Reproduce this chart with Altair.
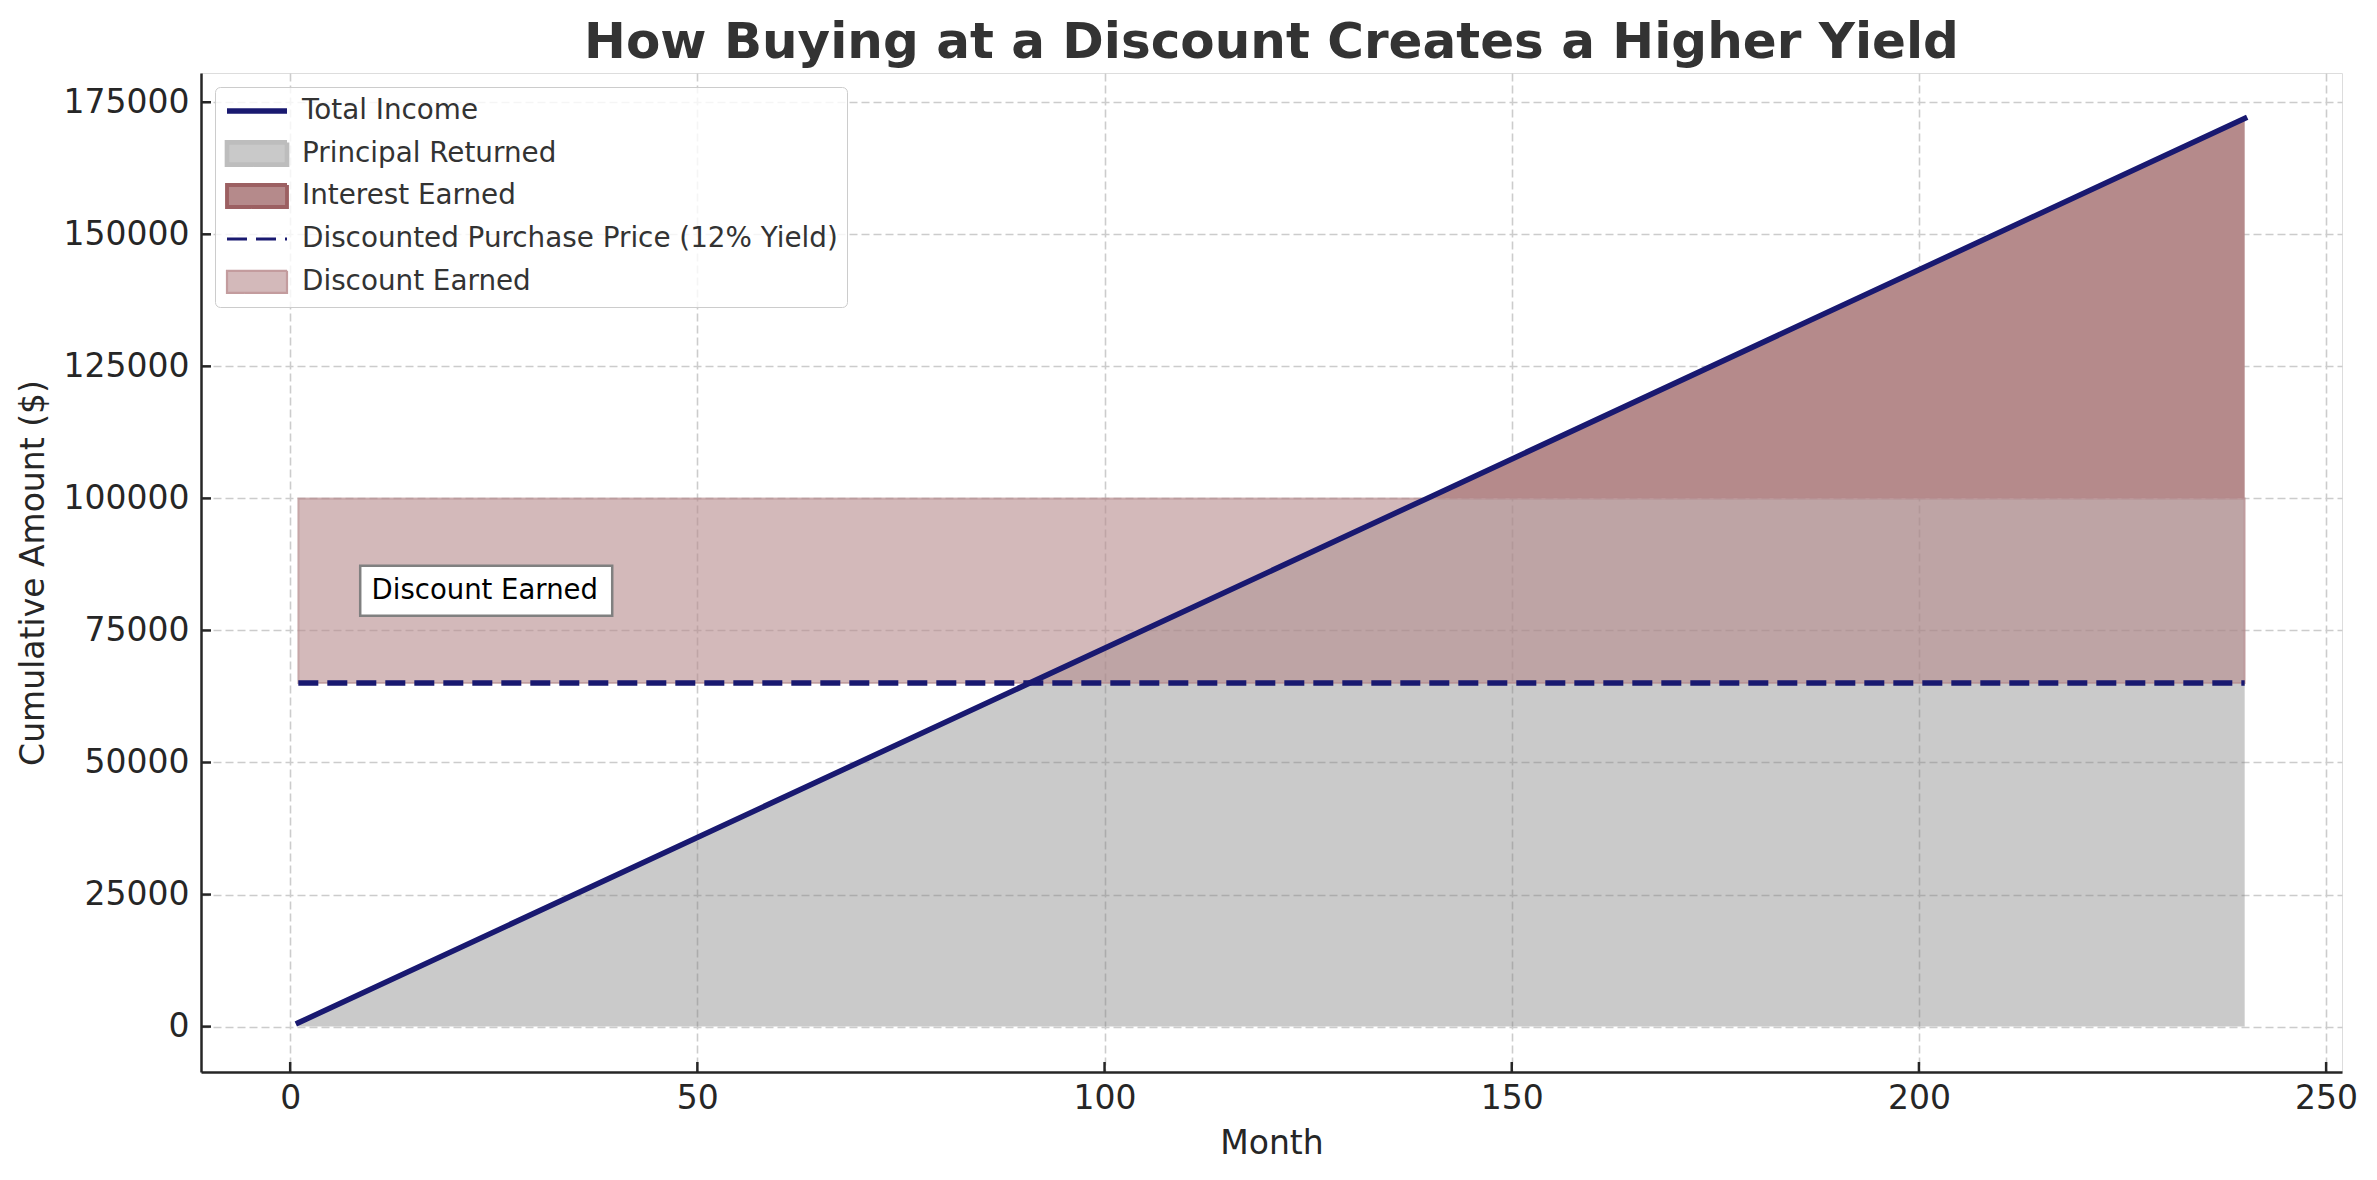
import altair as alt
import pandas as pd

FONT = "DejaVu Sans"

series_names = ["Total Income", "Principal Returned", "Interest Earned",
                "Discounted Purchase Price (12% Yield)", "Discount Earned"]

# Total income (cumulative payments) line
income_months = [1, 139.6, 240]
income_values = [716, 100000, 171943]

# Principal returned area (0 -> min(income, face value))
principal_months = [1, 139.6, 240]
principal_bottom = [0, 0, 0]
principal_top = [716, 100000, 100000]

# Interest earned area (face value -> income)
interest_months = [139.6, 240]
interest_bottom = [100000, 100000]
interest_top = [100000, 171943]

# Discount earned band (purchase price -> face value)
discount_months = [1, 240]
discount_bottom = [65065, 65065]
discount_top = [100000, 100000]

# Discounted purchase price line
price_months = [1, 240]
price_values = [65065, 65065]

annotation_month = [10]
annotation_value = [82532]
annotation_text = ["Discount Earned"]

x_ticks = [0, 50, 100, 150, 200, 250]
y_ticks = [0, 25000, 50000, 75000, 100000, 125000, 150000, 175000]
x_domain = [-10.95, 251.95]
y_domain = [-8597, 180540]

# legend swatch styles (one per series)
legend_fill = ["transparent", "#c9c9c9", "#b58a8b", "transparent", "#d3b9ba"]
legend_stroke = ["#191970", "#bdbdbd", "#9c6062", "#191970", "#c39c9e"]
legend_width = [5.5, 2.2, 2.2, 5.5, 2.2]
legend_dash = [[1, 0], [1, 0], [1, 0], [20, 9], [1, 0]]
LINE_PATH = "M-1,0H4"
BOX_PATH = "M-1,-0.92H4V0.92H-1Z"
legend_shape = [LINE_PATH, BOX_PATH, BOX_PATH, LINE_PATH, BOX_PATH]

income_df = pd.DataFrame({"month": income_months, "value": income_values})
principal_df = pd.DataFrame({"month": principal_months, "value": principal_bottom, "hi": principal_top})
interest_df = pd.DataFrame({"month": interest_months, "value": interest_bottom, "hi": interest_top})
discount_df = pd.DataFrame({"month": discount_months, "value": discount_bottom, "hi": discount_top})
price_df = pd.DataFrame({"month": price_months, "value": price_values})
annot_df = pd.DataFrame({"month": annotation_month, "value": annotation_value, "text": annotation_text})
xtick_df = pd.DataFrame({"month": x_ticks})
ytick_df = pd.DataFrame({"value": y_ticks})
legend_df = pd.DataFrame({"series": series_names})

AX = "#262626"
common_axis = dict(grid=True, gridDash=[8, 4], gridColor="#cccccc", gridWidth=1.6,
                   domainColor=AX, domainWidth=2.5, ticks=False,
                   labelFont=FONT, labelFontSize=33, labelColor=AX,
                   titleFont=FONT, titleFontSize=33, titleColor=AX, titleFontWeight="normal")

x_axis = alt.Axis(values=x_ticks, title="Month", labelPadding=10, titlePadding=12.5, **common_axis)
y_axis = alt.Axis(values=y_ticks, title="Cumulative Amount ($)", format="d", labelPadding=12,
                  titlePadding=13, **common_axis)
x_scale = alt.Scale(domain=x_domain, nice=False, zero=False)
y_scale = alt.Scale(domain=y_domain, nice=False, zero=False)


def X():
    return alt.X("month:Q", scale=x_scale, axis=x_axis)


def Y():
    return alt.Y("value:Q", scale=y_scale, axis=y_axis)


legend = alt.Legend(
    title="", orient="top-left", offset=14, padding=9,
    labelFont=FONT, labelFontSize=27.8, labelColor="#333333", labelLimit=900,
    rowPadding=2, gridAlign="all", fillColor="rgba(255,255,255,0.8)", strokeColor="#cccccc",
    cornerRadius=5, symbolSize=576, labelOffset=48, symbolOpacity=1,
)

principal = alt.Chart(principal_df).mark_area(color="#808080", fillOpacity=0.42).encode(
    x=X(), y=Y(), y2="hi:Q")
interest = alt.Chart(interest_df).mark_area(color="#b58a8b", fillOpacity=1).encode(
    x=X(), y=Y(), y2="hi:Q")
discount = alt.Chart(discount_df).mark_area(color="#b68a8c", fillOpacity=0.6, stroke="#b68a8c",
                                            strokeOpacity=0.6, strokeWidth=2).encode(
    x=X(), y=Y(), y2="hi:Q")

price_line = alt.Chart(price_df).mark_line(color="#191970", strokeWidth=5.5, strokeDash=[20, 9]).encode(
    x=X(), y=Y())
income_line = alt.Chart(income_df).mark_line(color="#191970", strokeWidth=5.5, strokeCap="square").encode(
    x=X(), y=Y())

annot_box = alt.Chart(annot_df).mark_rect(width=252, height=50, xOffset=114.6, fill="white",
                                          stroke="#808080", strokeWidth=2.5).encode(x=X(), y=Y())
annot_text = alt.Chart(annot_df).mark_text(align="left", baseline="middle", font=FONT, fontSize=27.5,
                                           color="black").encode(x=X(), y=Y(), text="text:N")

# inward tick marks on the two visible spines
xticks = alt.Chart(xtick_df).mark_rule(color=AX, strokeWidth=2.5, y2Offset=-10).encode(
    x=X(), y=alt.Y(datum=y_domain[0], scale=y_scale, axis=y_axis), y2=alt.datum(y_domain[0]))
yticks = alt.Chart(ytick_df).mark_rule(color=AX, strokeWidth=2.5, x2Offset=10).encode(
    y=Y(), x=alt.X(datum=x_domain[0], scale=x_scale, axis=x_axis), x2=alt.datum(x_domain[0]))

# legend carrier: points placed outside the plot and clipped, one per series
legend_layer = alt.Chart(legend_df).mark_point(clip=True, filled=True, size=576, opacity=1).encode(
    x=alt.X(datum=-1000, scale=x_scale, axis=x_axis),
    y=alt.Y(datum=0, scale=y_scale, axis=y_axis),
    fill=alt.Fill("series:N", scale=alt.Scale(domain=series_names, range=legend_fill), legend=legend),
    stroke=alt.Stroke("series:N", scale=alt.Scale(domain=series_names, range=legend_stroke), legend=legend),
    strokeWidth=alt.StrokeWidth("series:N", scale=alt.Scale(domain=series_names, range=legend_width),
                                legend=legend),
    strokeDash=alt.StrokeDash("series:N", scale=alt.Scale(domain=series_names, range=legend_dash),
                              legend=legend),
    shape=alt.Shape("series:N", scale=alt.Scale(domain=series_names, range=legend_shape), legend=legend),
)

chart = alt.layer(principal, interest, discount, price_line, income_line, annot_box, annot_text,
                  xticks, yticks, legend_layer).properties(
    width=2141, height=999,
    padding={"left": 9, "top": 10, "right": 5, "bottom": 5},
    title=alt.TitleParams("How Buying at a Discount Creates a Higher Yield", fontSize=50, font=FONT,
                          fontWeight="bold", color="#333333", anchor="middle", offset=5),
).configure_view(stroke=None).configure(background="white")

chart.save("out.html", embed_options={"renderer": "svg", "actions": False})
